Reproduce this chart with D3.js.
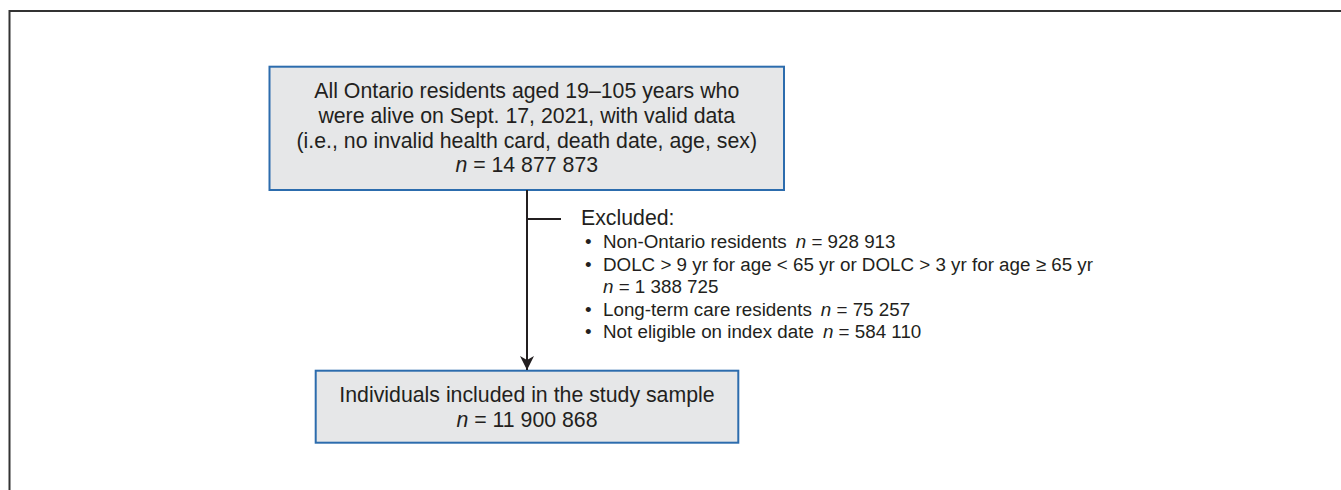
<!DOCTYPE html>
<html>
<head>
<meta charset="utf-8">
<script src="https://cdn.jsdelivr.net/npm/d3@7"></script>
<style>
  body { margin: 0; background: #fff; }
  svg text { font-family: "Liberation Sans", Arial, sans-serif; fill: #231f20; }
</style>
</head>
<body>
<div id="chart"></div>
<script>
// flow chart data
var topLines = [
    "All Ontario residents aged 19\u2013105 years who",
    "were alive on Sept. 17, 2021, with valid data",
    "(i.e., no invalid health card, death date, age, sex)"
];
var topN = 14877873;

var excludedLabels = [
    "Non-Ontario residents",
    "DOLC > 9 yr for age < 65 yr or DOLC > 3 yr for age \u2265 65 yr",
    "Long-term care residents",
    "Not eligible on index date"
];
var excludedN = [928913, 1388725, 75257, 584110];
var excludedWrap = [false, true, false, false];

var bottomLines = ["Individuals included in the study sample"];
var bottomN = 11900868;

var width = 1341, height = 490;
var boxFont = 21.3, listFont = 18.8;
var ink = "#231f20", boxFill = "#e6e7e8", boxStroke = "#2c6cad";

function fmt(v) {
    return String(v).replace(/\B(?=(\d{3})+(?!\d))/g, " ");
}

var svg = d3.select("#chart").append("svg")
    .attr("width", width)
    .attr("height", height);

svg.append("defs").append("marker")
    .attr("id", "head")
    .attr("viewBox", "0 0 14 14")
    .attr("refX", 14).attr("refY", 7)
    .attr("markerWidth", 14).attr("markerHeight", 14)
    .attr("markerUnits", "userSpaceOnUse")
    .attr("orient", "auto")
    .append("path")
    .attr("d", "M0,0 L14,7 L0,14 L4,7 Z")
    .attr("fill", ink);

// outer frame (top + left only)
svg.append("path")
    .attr("d", "M9.5,490 L9.5,11 L1341,11")
    .attr("fill", "none")
    .attr("stroke", "#333")
    .attr("stroke-width", 2);

function nLine(sel, x, y, value, anchor, size) {
    var t = sel.append("text")
        .attr("x", x).attr("y", y)
        .attr("text-anchor", anchor || "middle")
        .style("font-size", size + "px");
    t.append("tspan").style("font-style", "italic").text("n");
    t.append("tspan").text(" = " + fmt(value));
    return t;
}

function box(x0, y0, x1, y1, lines, n, lineGap, firstBase) {
    var g = svg.append("g");
    g.append("rect")
        .attr("x", x0).attr("y", y0)
        .attr("width", x1 - x0).attr("height", y1 - y0)
        .attr("fill", boxFill)
        .attr("stroke", boxStroke)
        .attr("stroke-width", 2);
    var cx = (x0 + x1) / 2;
    g.selectAll("text.line")
        .data(lines)
        .enter().append("text")
        .attr("class", "line")
        .attr("x", cx)
        .attr("y", function(d, i) { return firstBase + i * lineGap; })
        .attr("text-anchor", "middle")
        .style("font-size", boxFont + "px")
        .text(function(d) { return d; });
    nLine(g, cx, firstBase + lines.length * lineGap, n, "middle", boxFont);
}

box(269.5, 66.7, 784, 190, topLines, topN, 24.8, 98);
box(315.7, 370.7, 738.3, 442.7, bottomLines, bottomN, 25, 401.7);

// connector + arrow
var cx = 527;
svg.append("line")
    .attr("x1", cx).attr("y1", 190)
    .attr("x2", cx).attr("y2", 370)
    .attr("stroke", ink)
    .attr("stroke-width", 2)
    .attr("marker-end", "url(#head)");

svg.append("line")
    .attr("x1", cx).attr("y1", 219)
    .attr("x2", 561).attr("y2", 219)
    .attr("stroke", ink)
    .attr("stroke-width", 2);

// excluded list
svg.append("text")
    .attr("x", 581).attr("y", 225)
    .style("font-size", boxFont + "px")
    .text("Excluded:");

var rowGap = 22.6, y = 248;
excludedLabels.forEach(function(lab, i) {
    svg.append("text")
        .attr("x", 585).attr("y", y)
        .style("font-size", listFont + "px")
        .text("\u2022");
    if (excludedWrap[i]) {
        svg.append("text")
            .attr("x", 603).attr("y", y)
            .style("font-size", listFont + "px")
            .text(lab);
        y += rowGap;
        nLine(svg, 603, y, excludedN[i], "start", listFont);
    } else {
        var t = svg.append("text")
            .attr("x", 603).attr("y", y)
            .style("font-size", listFont + "px");
        t.append("tspan").text(lab);
        t.append("tspan").attr("dx", 9).style("font-style", "italic").text("n");
        t.append("tspan").text(" = " + fmt(excludedN[i]));
    }
    y += rowGap;
});
</script>
</body>
</html>
